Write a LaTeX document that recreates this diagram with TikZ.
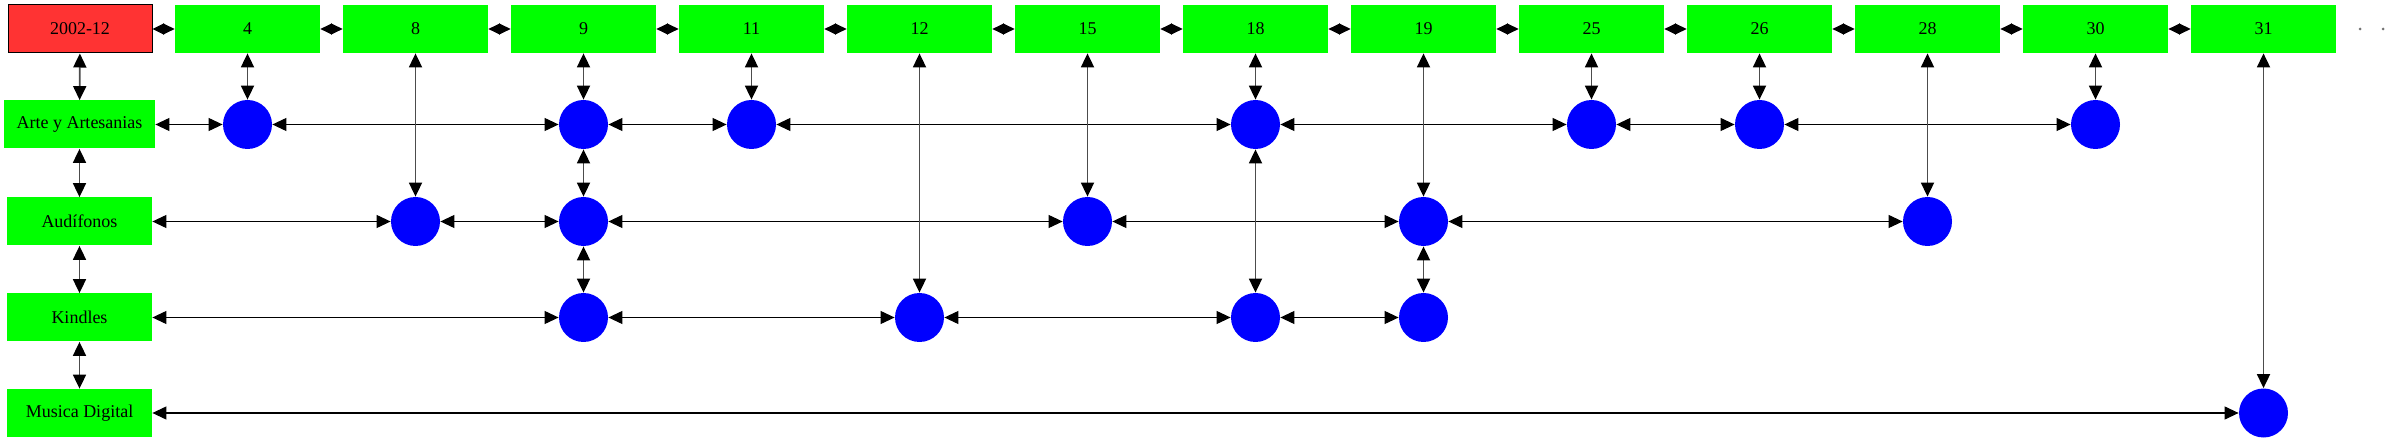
\documentclass[tikz,border=0pt]{standalone}
\usepackage{fontspec}
\setmainfont{Liberation Serif}
\usetikzlibrary{arrows.meta,positioning}
\definecolor{boxred}{RGB}{255,51,51}
\definecolor{boxgreen}{RGB}{0,255,0}
\definecolor{hitblue}{RGB}{0,0,255}

\begin{document}
\begin{tikzpicture}[
    x=0.5pt, y=-0.5pt,
    >={Triangle[length=7pt,width=6.5pt,color=black]},
    daybox/.style={rectangle, fill=boxgreen, minimum width=72.5pt, minimum height=24pt, inner sep=0pt, font=\fontsize{9}{10}\selectfont},
    rootbox/.style={daybox, fill=boxred, draw=black, line width=0.5pt, minimum width=72pt},
    hit/.style={circle, fill=hitblue, minimum size=24.5pt, inner sep=0pt},
    daylink/.style={{Triangle[length=5.75pt,width=5.5pt]}-{Triangle[length=5.75pt,width=5.5pt]}, line width=0.5pt},
    hlink/.style={<->, line width=0.55pt},
    vlink/.style={<->, line width=0.9pt, draw=black!70}
]
    \useasboundingbox (0,0) rectangle (2389,443);

    % Days
    \node[rootbox] (root) at (80,29) {2002-12};
    \node[daybox] (t4) at (247.5,29) {4};
    \node[daybox] (t8) at (415.5,29) {8};
    \node[daybox] (t9) at (583.5,29) {9};
    \node[daybox] (t11) at (751.5,29) {11};
    \node[daybox] (t12) at (919.5,29) {12};
    \node[daybox] (t15) at (1087.5,29) {15};
    \node[daybox] (t18) at (1255.5,29) {18};
    \node[daybox] (t19) at (1423.5,29) {19};
    \node[daybox] (t25) at (1591.5,29) {25};
    \node[daybox] (t26) at (1759.5,29) {26};
    \node[daybox] (t28) at (1927.5,29) {28};
    \node[daybox] (t30) at (2095.5,29) {30};
    \node[daybox] (t31) at (2263.5,29) {31};
    \fill[black!55] (2360,29) circle (1.5);
    \fill[black!55] (2383,29) circle (1.5);

    % Categories
    \node[daybox, minimum width=75.5pt] (arte) at (79.5,124.5) {Arte y Artesanias};
    \node[daybox] (audi) at (79.5,221.5) {Audífonos};
    \node[daybox] (kind) at (79.5,317.5) {Kindles};
    \node[daybox] (musi) at (79.5,413) {Musica Digital};

    % Hits
    \node[hit] (a4) at (247.5,124.5) {};
    \node[hit] (a9) at (583.5,124.5) {};
    \node[hit] (a11) at (751.5,124.5) {};
    \node[hit] (a18) at (1255.5,124.5) {};
    \node[hit] (a25) at (1591.5,124.5) {};
    \node[hit] (a26) at (1759.5,124.5) {};
    \node[hit] (a30) at (2095.5,124.5) {};

    \node[hit] (u8) at (415.5,221.5) {};
    \node[hit] (u9) at (583.5,221.5) {};
    \node[hit] (u15) at (1087.5,221.5) {};
    \node[hit] (u19) at (1423.5,221.5) {};
    \node[hit] (u28) at (1927.5,221.5) {};

    \node[hit] (k9) at (583.5,317.5) {};
    \node[hit] (k12) at (919.5,317.5) {};
    \node[hit] (k18) at (1255.5,317.5) {};
    \node[hit] (k19) at (1423.5,317.5) {};

    \node[hit] (m31) at (2263.5,413) {};

    % Day chain
    \draw[daylink] (root) -- (t4);
    \draw[daylink] (t4) -- (t8);
    \draw[daylink] (t8) -- (t9);
    \draw[daylink] (t9) -- (t11);
    \draw[daylink] (t11) -- (t12);
    \draw[daylink] (t12) -- (t15);
    \draw[daylink] (t15) -- (t18);
    \draw[daylink] (t18) -- (t19);
    \draw[daylink] (t19) -- (t25);
    \draw[daylink] (t25) -- (t26);
    \draw[daylink] (t26) -- (t28);
    \draw[daylink] (t28) -- (t30);
    \draw[daylink] (t30) -- (t31);

    % Category chain
    \draw[vlink] (root) -- (arte);
    \draw[vlink] (arte) -- (audi);
    \draw[vlink] (audi) -- (kind);
    \draw[vlink] (kind) -- (musi);

    % Rows
    \draw[hlink] (arte) -- (a4);
    \draw[hlink] (a4) -- (a9);
    \draw[hlink] (a9) -- (a11);
    \draw[hlink] (a11) -- (a18);
    \draw[hlink] (a18) -- (a25);
    \draw[hlink] (a25) -- (a26);
    \draw[hlink] (a26) -- (a30);

    \draw[hlink] (audi) -- (u8);
    \draw[hlink] (u8) -- (u9);
    \draw[hlink] (u9) -- (u15);
    \draw[hlink] (u15) -- (u19);
    \draw[hlink] (u19) -- (u28);

    \draw[hlink] (kind) -- (k9);
    \draw[hlink] (k9) -- (k12);
    \draw[hlink] (k12) -- (k18);
    \draw[hlink] (k18) -- (k19);

    \draw[hlink] (musi) -- (m31);

    % Columns
    \draw[vlink] (t4) -- (a4);
    \draw[vlink] (t8) -- (u8);
    \draw[vlink] (t9) -- (a9);
    \draw[vlink] (a9) -- (u9);
    \draw[vlink] (u9) -- (k9);
    \draw[vlink] (t11) -- (a11);
    \draw[vlink] (t12) -- (k12);
    \draw[vlink] (t15) -- (u15);
    \draw[vlink] (t18) -- (a18);
    \draw[vlink] (a18) -- (k18);
    \draw[vlink] (t19) -- (u19);
    \draw[vlink] (u19) -- (k19);
    \draw[vlink] (t25) -- (a25);
    \draw[vlink] (t26) -- (a26);
    \draw[vlink] (t28) -- (u28);
    \draw[vlink] (t30) -- (a30);
    \draw[vlink] (t31) -- (m31);
\end{tikzpicture}
\end{document}
